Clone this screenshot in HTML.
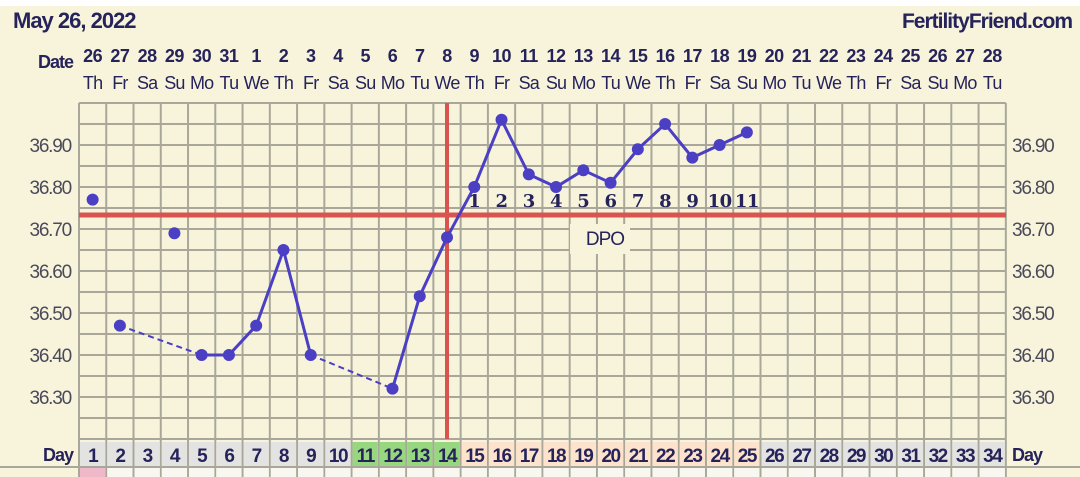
<!DOCTYPE html>
<html><head><meta charset="utf-8"><style>
html,body{margin:0;padding:0;background:#fff;}
svg{display:block;font-family:"Liberation Sans",sans-serif;}
</style></head><body>
<svg id="s" width="1080" height="477" xmlns="http://www.w3.org/2000/svg"></svg>
<script>
const W=27.26,X0=79,Y0=103,YB=439;
const cx=d=>X0+(d-0.5)*W;
const ty=t=>145+(36.90-t)*420;
let h='<rect x="0" y="6" width="1080" height="471" fill="#f8f4dc"/>';
h+='<text x="13" y="28" font-size="22" fill="#25235a" letter-spacing="-1" font-weight="bold">May 26, 2022</text>';
h+='<text x="1072" y="28" font-size="21" fill="#25235a" text-anchor="end" letter-spacing="-1" font-weight="bold">FertilityFriend.com</text>';
h+='<text x="73" y="68" font-size="18" font-weight="bold" fill="#25235a" text-anchor="end" letter-spacing="-1">Date</text>';
const dates=[26,27,28,29,30,31,1,2,3,4,5,6,7,8,9,10,11,12,13,14,15,16,17,18,19,20,21,22,23,24,25,26,27,28];
const dn=["Th","Fr","Sa","Su","Mo","Tu","We"];
for(let i=0;i<34;i++){
 h+=`<text x="${cx(i+1)}" y="62" font-size="18" font-weight="bold" fill="#25235a" text-anchor="middle" letter-spacing="-0.5">${dates[i]}</text>`;
 h+=`<text x="${cx(i+1)}" y="89" font-size="18" fill="#25235a" text-anchor="middle" letter-spacing="-0.8">${dn[i%7]}</text>`;
}
for(let y=Y0;y<=YB+0.1;y+=21) h+=`<line x1="${X0}" x2="${X0+34*W}" y1="${y}" y2="${y}" stroke="#a9a79a" stroke-width="2"/>`;
for(let i=0;i<=34;i++){const x=X0+i*W;h+=`<line x1="${x}" x2="${x}" y1="${Y0}" y2="477" stroke="#a9a79a" stroke-width="2"/>`;}
[36.9,36.8,36.7,36.6,36.5,36.4,36.3].forEach(t=>{const y=ty(t)+7;
 h+=`<text x="71" y="${y}" font-size="19" fill="#4a4a5a" text-anchor="end" letter-spacing="-1.2">${t.toFixed(2)}</text>`;
 h+=`<text x="1012" y="${y}" font-size="19" fill="#4a4a5a" letter-spacing="-1.2">${t.toFixed(2)}</text>`;});
for(let i=1;i<=34;i++){const c=i<=10?"#e3e3e1":i<=14?"#97d77f":i<=25?"#fde3cb":"#e3e3e1";
 h+=`<rect x="${X0+(i-1)*W+1}" y="442" width="${W-2}" height="24" fill="${c}"/>`;
 h+=`<text x="${cx(i)}" y="462" font-size="19" font-weight="bold" fill="#25235a" text-anchor="middle" letter-spacing="-1.5">${i}</text>`;
 h+=`<rect x="${X0+(i-1)*W+1}" y="468" width="${W-2}" height="9" fill="${i==1?'#f0b9c9':'#f8f8f0'}"/>`;}
h+='<line x1="0" x2="1080" y1="467" y2="467" stroke="#a9a79a" stroke-width="2"/>';
h+='<text x="73" y="461" font-size="18" font-weight="bold" fill="#25235a" text-anchor="end" letter-spacing="-1">Day</text>';
h+='<text x="1012" y="461" font-size="18" font-weight="bold" fill="#25235a" letter-spacing="-1">Day</text>';
h+=`<line x1="${X0}" x2="1006" y1="215" y2="215" stroke="#d9534f" stroke-width="5"/>`;
h+=`<line x1="447" x2="447" y1="${Y0}" y2="${YB}" stroke="#d9534f" stroke-width="4"/>`;
h+='<rect x="570" y="224" width="60" height="30" fill="#f8f4dc"/>';
h+='<text x="605" y="245" font-size="19" fill="#25235a" text-anchor="middle" letter-spacing="-1">DPO</text>';
for(let k=1;k<=11;k++) h+=`<text x="${cx(14+k)}" y="207" font-size="18" font-weight="bold" font-family="DejaVu Serif,serif" fill="#25235a" text-anchor="middle" letter-spacing="-0.5">${k}</text>`;
const d={1:36.77,2:36.47,4:36.69,5:36.40,6:36.40,7:36.47,8:36.65,9:36.40,12:36.32,13:36.54,14:36.68,15:36.80,16:36.96,17:36.83,18:36.80,19:36.84,20:36.81,21:36.89,22:36.95,23:36.87,24:36.90,25:36.93};
const P=k=>`${cx(k)},${ty(d[k])}`;
const col="#4b3fc4";
h+=`<line x1="${cx(2)}" y1="${ty(d[2])}" x2="${cx(5)}" y2="${ty(d[5])}" stroke="${col}" stroke-width="2" stroke-dasharray="6,4"/>`;
h+=`<line x1="${cx(9)}" y1="${ty(d[9])}" x2="${cx(12)}" y2="${ty(d[12])}" stroke="${col}" stroke-width="2" stroke-dasharray="6,4"/>`;
h+=`<polyline points="${[5,6,7,8,9].map(P).join(' ')}" fill="none" stroke="${col}" stroke-width="3"/>`;
h+=`<polyline points="${[12,13,14,15,16,17,18,19,20,21,22,23,24,25].map(P).join(' ')}" fill="none" stroke="${col}" stroke-width="3"/>`;
for(const k in d) h+=`<circle cx="${cx(+k)}" cy="${ty(d[k])}" r="6" fill="${col}"/>`;
document.getElementById('s').innerHTML=h;
</script>
</body></html>
